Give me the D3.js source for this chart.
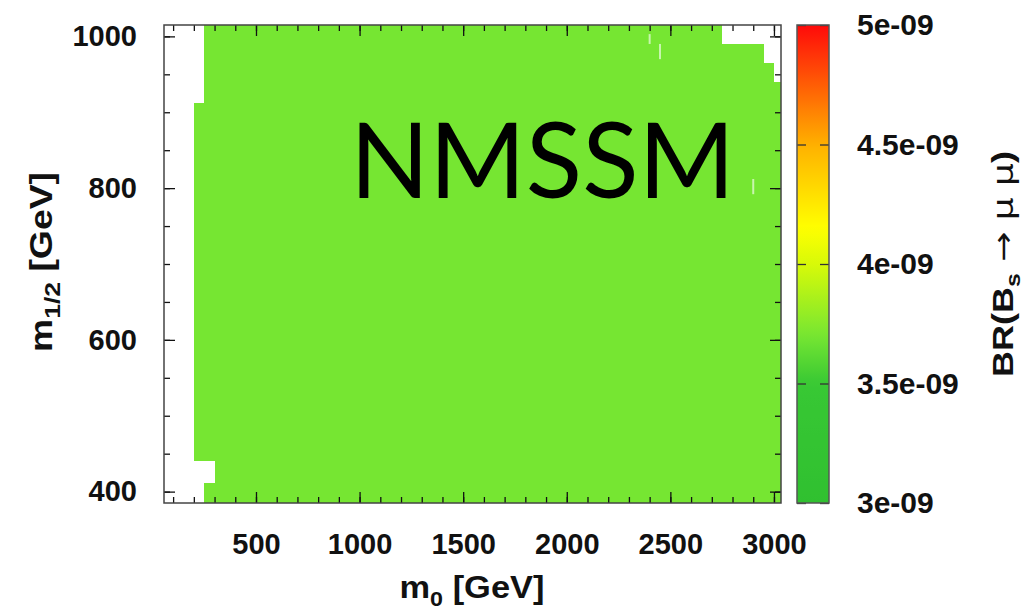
<!DOCTYPE html>
<html>
<head>
<meta charset="utf-8">
<script src="https://cdn.jsdelivr.net/npm/d3@7"></script>
<style>
body { margin: 0; background: #fff; }
text { font-family: "Liberation Sans", Arial, sans-serif; }
</style>
</head>
<body>
<svg width="1026" height="611"></svg>
<script>
var svg = d3.select("svg");

// Scan bands: m1/2 range, m0 range covered, BR value
var bandM12Lo = [990, 965, 940, 912, 440, 412, 380];
var bandM12Hi = [1020, 990, 965, 940, 912, 440, 412];
var bandM0Lo = [250, 250, 250, 250, 200, 300, 250];
var bandM0Hi = [2750, 2950, 3000, 3040, 3040, 3040, 3040];
var bandBR = [3.7e-9, 3.7e-9, 3.7e-9, 3.7e-9, 3.7e-9, 3.7e-9, 3.7e-9];

// thin missing columns
var holeM0 = [2400, 2450, 2900];
var holeM12Lo = [990, 970, 792];
var holeM12Hi = [1003, 990, 812];

// Ticks / labels
var m0Ticks = [500, 1000, 1500, 2000, 2500, 3000];
var m12Ticks = [400, 600, 800, 1000];
var brTicks = [3e-9, 3.5e-9, 4e-9, 4.5e-9, 5e-9];
var brLabels = ["3e-09", "3.5e-09", "4e-09", "4.5e-09", "5e-09"];

var pLeft = 164, pRight = 781, pTop = 25, pBottom = 503;

var x = d3.scaleLinear().domain([56, 3034]).range([pLeft, pRight]);
var y = d3.scaleLinear().domain([385, 1015]).range([pBottom, pTop]);

var color = d3.scaleLinear()
    .domain([3e-9, 3.5e-9, 3.7e-9, 4e-9, 4.15e-9, 4.5e-9, 5e-9])
    .range(["#30c030", "#38c834", "#76e632", "#d8fa08", "#ffff00", "#ffb000", "#ff0a0a"]);

// clip
svg.append("clipPath").attr("id", "frame")
    .append("rect").attr("x", pLeft).attr("y", pTop)
    .attr("width", pRight - pLeft).attr("height", pBottom - pTop);

var bands = d3.range(bandBR.length).map(function(i) {
    return {lo: bandM12Lo[i], hi: bandM12Hi[i], a: bandM0Lo[i], b: bandM0Hi[i], v: bandBR[i]};
});

var g = svg.append("g").attr("clip-path", "url(#frame)");
g.selectAll("rect.band").data(bands).enter().append("rect")
    .attr("class", "band")
    .attr("x", function(d) { return x(d.a); })
    .attr("y", function(d) { return y(d.hi); })
    .attr("width", function(d) { return x(d.b) - x(d.a); })
    .attr("height", function(d) { return y(d.lo) - y(d.hi); })
    .attr("fill", function(d) { return color(d.v); })
    .attr("shape-rendering", "crispEdges");

g.selectAll("rect.hole").data(holeM0).enter().append("rect")
    .attr("class", "hole")
    .attr("x", function(d) { return x(d) - 1; })
    .attr("y", function(d, i) { return y(holeM12Hi[i]); })
    .attr("width", 2)
    .attr("height", function(d, i) { return y(holeM12Lo[i]) - y(holeM12Hi[i]); })
    .attr("fill", "#fff").attr("opacity", 0.6);

// NMSSM label
svg.append("text")
    .attr("x", 350).attr("y", 198)
    .attr("textLength", 385).attr("lengthAdjust", "spacingAndGlyphs")
    .style("font-family", "Lato, 'Open Sans', sans-serif")
    .style("font-size", "104px")
    .attr("fill", "#000")
    .text("NMSSM");

// Axes (ticks inward on all sides)
function styleAxis(sel) {
    sel.select(".domain").remove();
    sel.selectAll(".tick line").attr("stroke", "#111").attr("stroke-width", 1.3);
    sel.selectAll("text").attr("fill", "#111")
        .style("font-size", "29px").style("font-weight", "bold");
}

svg.append("g").attr("transform", "translate(0," + pBottom + ")")
    .call(d3.axisBottom(x).tickValues(x.ticks(30)).tickSize(-6).tickFormat(""))
    .call(styleAxis);
svg.append("g").attr("transform", "translate(0," + pBottom + ")")
    .call(d3.axisBottom(x).tickValues(m0Ticks).tickSize(-11).tickPadding(30).tickFormat(d3.format("d")))
    .call(styleAxis);
svg.append("g").attr("transform", "translate(0," + pTop + ")")
    .call(d3.axisTop(x).tickValues(x.ticks(30)).tickSize(-6).tickFormat(""))
    .call(styleAxis);
svg.append("g").attr("transform", "translate(0," + pTop + ")")
    .call(d3.axisTop(x).tickValues(m0Ticks).tickSize(-11).tickFormat(""))
    .call(styleAxis);

svg.append("g").attr("transform", "translate(" + pLeft + ",0)")
    .call(d3.axisLeft(y).tickValues(y.ticks(12)).tickSize(-6).tickFormat(""))
    .call(styleAxis);
svg.append("g").attr("transform", "translate(" + pLeft + ",0)")
    .call(d3.axisLeft(y).tickValues(m12Ticks).tickSize(-11).tickPadding(27).tickFormat(d3.format("d")))
    .call(styleAxis);
svg.append("g").attr("transform", "translate(" + pRight + ",0)")
    .call(d3.axisRight(y).tickValues(y.ticks(12)).tickSize(-6).tickFormat(""))
    .call(styleAxis);
svg.append("g").attr("transform", "translate(" + pRight + ",0)")
    .call(d3.axisRight(y).tickValues(m12Ticks).tickSize(-11).tickFormat(""))
    .call(styleAxis);

// frame
svg.append("rect").attr("x", pLeft).attr("y", pTop)
    .attr("width", pRight - pLeft).attr("height", pBottom - pTop)
    .attr("fill", "none").attr("stroke", "#444").attr("stroke-width", 1.5);

// Axis titles
var xt = svg.append("text").attr("x", 472).attr("y", 598)
    .attr("text-anchor", "middle")
    .attr("textLength", 145).attr("lengthAdjust", "spacingAndGlyphs")
    .style("font-size", "31px").style("font-weight", "bold").attr("fill", "#111");
xt.append("tspan").text("m");
xt.append("tspan").attr("dy", 8).style("font-size", "21px").text("0");
xt.append("tspan").attr("dy", -8).text(" [GeV]");

var yt = svg.append("text")
    .attr("transform", "translate(52,262) rotate(-90)")
    .attr("text-anchor", "middle")
    .attr("textLength", 180).attr("lengthAdjust", "spacingAndGlyphs")
    .style("font-size", "31px").style("font-weight", "bold").attr("fill", "#111");
yt.append("tspan").text("m");
yt.append("tspan").attr("dy", 8).style("font-size", "22px").text("1/2");
yt.append("tspan").attr("dy", -8).text(" [GeV]");

// Colorbar
var cbLeft = 797, cbRight = 829;
var cy = d3.scaleLinear().domain([3e-9, 5e-9]).range([pBottom, pTop]);

var grad = svg.append("defs").append("linearGradient")
    .attr("id", "cbgrad").attr("x1", 0).attr("y1", 1).attr("x2", 0).attr("y2", 0);
grad.selectAll("stop").data(d3.range(0, 1.0001, 0.02)).enter().append("stop")
    .attr("offset", function(d) { return d; })
    .attr("stop-color", function(d) { return color(3e-9 + d * 2e-9); });

svg.append("rect").attr("x", cbLeft).attr("y", pTop)
    .attr("width", cbRight - cbLeft).attr("height", pBottom - pTop)
    .attr("fill", "url(#cbgrad)");

svg.append("g").attr("transform", "translate(" + cbLeft + ",0)")
    .call(d3.axisRight(cy).tickValues(brTicks).tickSize(9).tickPadding(51)
        .tickFormat(function(d, i) { return brLabels[i]; }))
    .call(styleAxis)
    .call(function(s) {
        s.selectAll(".tick line").attr("stroke", "#333");
        s.selectAll("text").style("font-size", "30px");
    });
svg.append("g").attr("transform", "translate(" + cbRight + ",0)")
    .call(d3.axisLeft(cy).tickValues(brTicks).tickSize(9).tickFormat(""))
    .call(styleAxis)
    .call(function(s) { s.selectAll(".tick line").attr("stroke", "#333"); });

svg.append("rect").attr("x", cbLeft).attr("y", pTop)
    .attr("width", cbRight - cbLeft).attr("height", pBottom - pTop)
    .attr("fill", "none").attr("stroke", "#555").attr("stroke-width", 1.5);

var ct = svg.append("text")
    .attr("transform", "translate(1013,264) rotate(-90)")
    .attr("text-anchor", "middle")
    .attr("textLength", 226).attr("lengthAdjust", "spacingAndGlyphs")
    .style("font-size", "29px").style("font-weight", "bold").attr("fill", "#111");
ct.append("tspan").text("BR(B");
ct.append("tspan").attr("dy", 7).style("font-size", "20px").text("s");
ct.append("tspan").attr("dy", -7).style("font-family", "'DejaVu Sans', sans-serif")
    .style("font-weight", "normal").text(" \u2192 \u03bc \u03bc");
ct.append("tspan").text(")");
</script>
</body>
</html>
